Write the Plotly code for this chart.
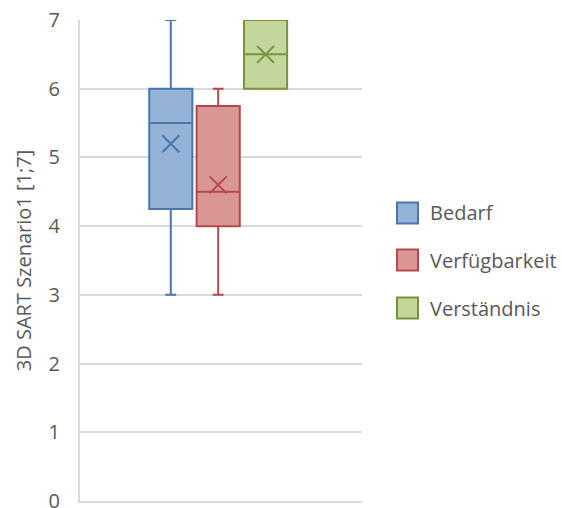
import plotly.graph_objects as go

# Survey summary statistics per rating dimension (scale 1..7)
series = ["Bedarf", "Verfügbarkeit", "Verständnis"]
lower_whisker = [3.0, 3.0, 6.0]
q1_vals = [4.25, 4.0, 6.0]
median_vals = [5.5, 4.5, 6.5]
q3_vals = [6.0, 5.75, 7.0]
upper_whisker = [7.0, 6.0, 7.0]
mean_vals = [5.2, 4.6, 6.5]
y_ticks = [0, 1, 2, 3, 4, 5, 6, 7]

fills = ["#95b3d7", "#d99694", "#c3d69b"]
edges = ["#4a76b0", "#b5494a", "#77933c"]

FONT = "Open Sans"
TEXT = "#595959"
GRID = "#d9d9d9"

# box layout along the (hidden) category axis
center = 0.49
slot = 0.168
box_w = 0.153
positions = [center + (i - 1) * slot for i in range(len(series))]

fig = go.Figure()
for i, name in enumerate(series):
    fig.add_trace(go.Box(
        name=name,
        x=[positions[i]],
        q1=[q1_vals[i]], median=[median_vals[i]], q3=[q3_vals[i]],
        lowerfence=[lower_whisker[i]], upperfence=[upper_whisker[i]],
        width=box_w,
        whiskerwidth=0.25,
        fillcolor=fills[i],
        line=dict(color=edges[i], width=2),
        boxpoints=False,
        showlegend=False,
        hoverinfo="skip",
    ))
    fig.add_trace(go.Scatter(
        x=[positions[i]], y=[mean_vals[i]],
        mode="markers",
        marker=dict(symbol="x-thin-open", size=17, color=edges[i],
                    line=dict(color=edges[i], width=2)),
        showlegend=False,
        hoverinfo="skip",
    ))

# legend drawn as squares with labels to the right of the plot
W, H = 562, 508
ml, mr, mt, mb = 80, 200, 20, 7
pw, ph = W - ml - mr, H - mt - mb
legend_y = [213, 260, 308]
sq = 21
sq_x0 = 397
for i, name in enumerate(series):
    cy = legend_y[i]
    fig.add_shape(
        type="rect", xref="paper", yref="paper",
        x0=(sq_x0 - ml) / pw, x1=(sq_x0 + sq - ml) / pw,
        y0=(H - mb - (cy + sq / 2)) / ph, y1=(H - mb - (cy - sq / 2)) / ph,
        fillcolor=fills[i], line=dict(color=edges[i], width=2),
    )
    fig.add_annotation(
        xref="paper", yref="paper",
        x=(428 - ml) / pw, y=(H - mb - cy) / ph,
        xanchor="left", yanchor="middle", showarrow=False,
        text=name, font=dict(family=FONT, size=20, color=TEXT),
    )

fig.update_layout(
    width=W, height=H,
    margin=dict(l=ml, r=mr, t=mt, b=mb, autoexpand=False),
    paper_bgcolor="white", plot_bgcolor="white",
    showlegend=False,
)
fig.update_xaxes(range=[0, 1], showticklabels=False, showgrid=False,
                 zeroline=False, showline=True, linecolor=GRID, linewidth=2,
                 ticks="", automargin=False)
fig.update_yaxes(range=[0, 7], tickvals=y_ticks, showgrid=True,
                 gridcolor=GRID, gridwidth=2, zeroline=False,
                 showline=True, linecolor=GRID, linewidth=2, ticks="",
                 ticklabelstandoff=14, ticklabeloverflow="allow",
                 automargin=False,
                 tickfont=dict(family=FONT, size=20, color=TEXT),
                 title=dict(text="3D SART Szenario1 [1;7]", standoff=12,
                            font=dict(family=FONT, size=20, color=TEXT)))

fig.write_html("out.html")
